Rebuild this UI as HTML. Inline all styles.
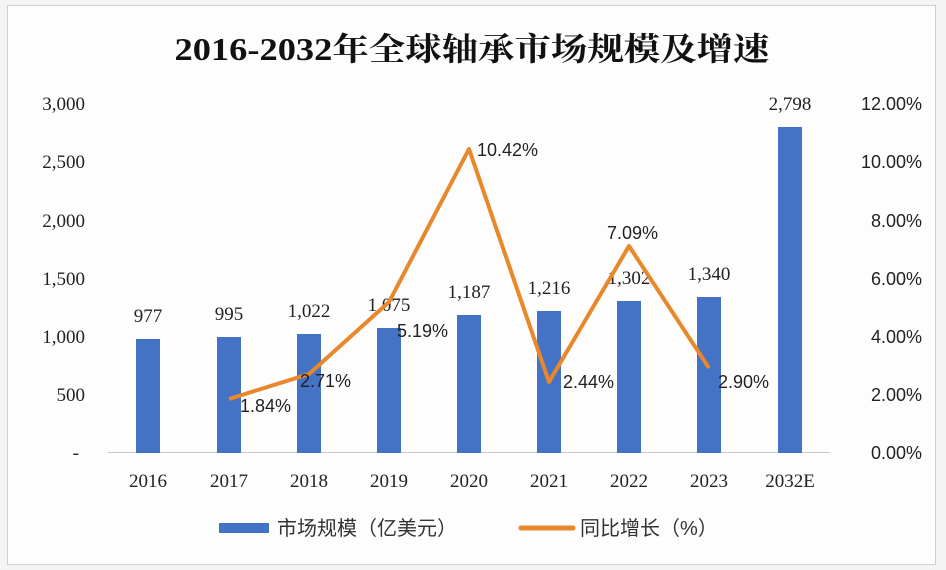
<!DOCTYPE html>
<html><head><meta charset="utf-8"><style>
html,body{margin:0;padding:0;background:#fff;}
svg{display:block;}
</style></head><body>
<svg width="946" height="570" xmlns="http://www.w3.org/2000/svg">
<rect x="0" y="0" width="946" height="570" fill="#f4f4f4"/>
<rect x="7.5" y="5.5" width="928" height="559" fill="#fdfdfd" stroke="#cfcfcf" stroke-width="1"/>
<text x="472" y="60" text-anchor="middle" font-family="'Liberation Serif','Noto Serif CJK SC',serif" font-weight="bold" font-size="32" textLength="595" lengthAdjust="spacingAndGlyphs" fill="#111">2016-2032年全球轴承市场规模及增速</text>
<g font-family="'Liberation Serif',serif" font-size="19" fill="#222">
<text x="85" y="110" text-anchor="end">3,000</text>
<text x="85" y="168" text-anchor="end">2,500</text>
<text x="85" y="227" text-anchor="end">2,000</text>
<text x="85" y="285" text-anchor="end">1,500</text>
<text x="85" y="343" text-anchor="end">1,000</text>
<text x="85" y="401" text-anchor="end">500</text>
<text x="79" y="459" text-anchor="end">-</text>
</g>
<g font-family="'Liberation Sans',sans-serif" font-size="18" fill="#222">
<text x="922" y="110" text-anchor="end">12.00%</text>
<text x="922" y="168" text-anchor="end">10.00%</text>
<text x="922" y="227" text-anchor="end">8.00%</text>
<text x="922" y="285" text-anchor="end">6.00%</text>
<text x="922" y="343" text-anchor="end">4.00%</text>
<text x="922" y="401" text-anchor="end">2.00%</text>
<text x="922" y="459" text-anchor="end">0.00%</text>
</g>
<line x1="108" y1="452.5" x2="830" y2="452.5" stroke="#c8c8c8" stroke-width="1"/>
<g fill="#4472C4">
<rect x="136" y="339" width="24" height="114"/>
<rect x="217" y="337" width="24" height="116"/>
<rect x="297" y="334" width="24" height="119"/>
<rect x="377" y="328" width="24" height="125"/>
<rect x="457" y="315" width="24" height="138"/>
<rect x="537" y="311" width="24" height="142"/>
<rect x="617" y="301" width="24" height="152"/>
<rect x="697" y="297" width="24" height="156"/>
<rect x="778" y="127" width="24" height="326"/>
</g>
<g font-family="'Liberation Serif',serif" font-size="19" fill="#222" text-anchor="middle">
<text x="148" y="322">977</text>
<text x="229" y="320">995</text>
<text x="309" y="317">1,022</text>
<text x="389" y="311">1,075</text>
<text x="469" y="298">1,187</text>
<text x="549" y="294">1,216</text>
<text x="629" y="284">1,302</text>
<text x="709" y="280">1,340</text>
<text x="790" y="110">2,798</text>
</g>
<polyline points="229,399 309,374 389,302 469,149 549,382 629,246 709,368" fill="none" stroke="#E8882A" stroke-width="4" stroke-linejoin="round"/>
<g font-family="'Liberation Sans',sans-serif" font-size="18" fill="#222">
<text x="240" y="412">1.84%</text>
<text x="300" y="387">2.71%</text>
<text x="397" y="337">5.19%</text>
<text x="477" y="156">10.42%</text>
<text x="563" y="388">2.44%</text>
<text x="607" y="239">7.09%</text>
<text x="718" y="388">2.90%</text>
</g>
<g font-family="'Liberation Serif',serif" font-size="19" fill="#222" text-anchor="middle">
<text x="148" y="487">2016</text>
<text x="229" y="487">2017</text>
<text x="309" y="487">2018</text>
<text x="389" y="487">2019</text>
<text x="469" y="487">2020</text>
<text x="549" y="487">2021</text>
<text x="629" y="487">2022</text>
<text x="709" y="487">2023</text>
<text x="790" y="487">2032E</text>
</g>
<rect x="219" y="523" width="50" height="10" fill="#4472C4"/>
<text x="277" y="535" font-family="'Liberation Sans','Noto Sans CJK SC',sans-serif" font-size="20" fill="#333">市场规模（亿美元）</text>
<line x1="521" y1="528" x2="573" y2="528" stroke="#E8882A" stroke-width="5" stroke-linecap="round"/>
<text x="580" y="535" font-family="'Liberation Sans','Noto Sans CJK SC',sans-serif" font-size="20" fill="#333">同比增长（%）</text>
</svg>
</body></html>
